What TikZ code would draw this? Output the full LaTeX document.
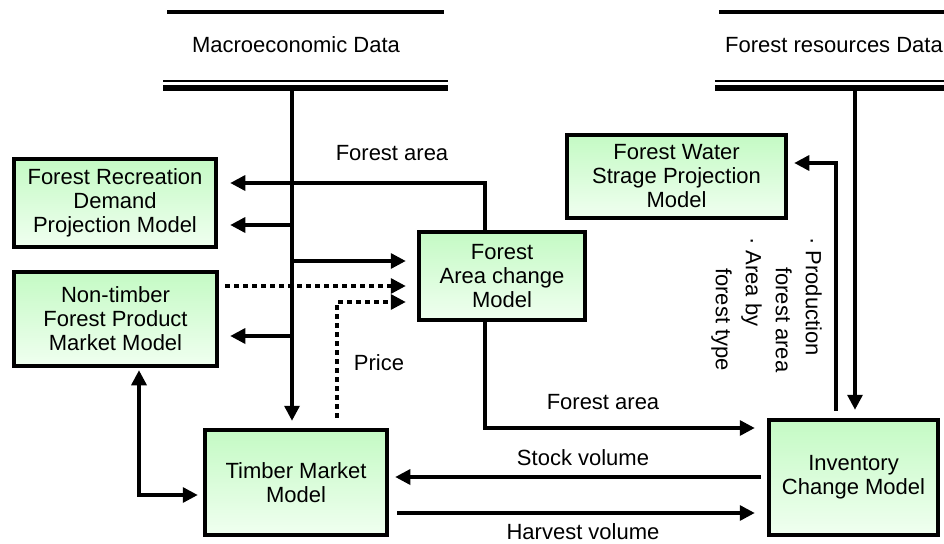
\documentclass[tikz,border=0pt]{standalone}
\usepackage{fontspec}
\setmainfont{Liberation Sans}
\usetikzlibrary{arrows.meta}
\definecolor{gtop}{RGB}{196,250,196}
\definecolor{gbot}{RGB}{240,255,240}
\tikzset{
  model/.style={draw=black, line width=4.5pt, top color=gtop, bottom color=gbot,
    align=center, inner sep=0pt, font=\fontsize{22}{24}\selectfont},
  arr/.style={line width=3.3pt, -{Triangle[length=15pt,width=15pt]}},
  arrs/.style={line width=3.3pt, {Triangle[length=15pt,width=15pt]}-{Triangle[length=15pt,width=15pt]}},
  dotarr/.style={line width=3.3pt, dash pattern=on 5pt off 4pt, -{Triangle[length=15pt,width=15pt]}},
  lbl/.style={font=\fontsize{22}{24}\selectfont, inner sep=0pt},
}
\begin{document}
\begin{tikzpicture}[x=1pt,y=-1pt]
\useasboundingbox (0,0) rectangle (944,543);

% data headers
\node[lbl] (md) at (296,45) {Macroeconomic Data};
\draw[line width=4pt] (167,12) -- (444,12);
\draw[line width=2pt] (163,80.5) -- (448,80.5);
\draw[line width=6pt] (163,87.5) -- (448,87.5);
\coordinate (mdb) at (292,90);

\node[lbl, anchor=west] (fd) at (725,45) {Forest resources Data};
\draw[line width=4pt] (719,12) -- (944,12);
\draw[line width=2pt] (715,80.5) -- (944,80.5);
\draw[line width=6pt] (715,87.5) -- (944,87.5);
\coordinate (fdb) at (855,90);

% models
\node[model, minimum width=202pt, minimum height=88pt] (rec) at (115,203)
  {Forest Recreation\\Demand\\Projection Model};
\node[model, minimum width=203pt, minimum height=94pt] (ntm) at (115.5,319)
  {Non-timber\\Forest Product\\Market Model};
\node[model, minimum width=166pt, minimum height=88pt] (fac) at (502,276)
  {Forest\\Area change\\Model};
\node[model, minimum width=219pt, minimum height=83pt] (fws) at (676.5,176.5)
  {Forest Water\\Strage Projection\\Model};
\node[model, minimum width=182pt, minimum height=105pt] (tmm) at (296,482.5)
  {Timber Market\\Model};
\node[model, minimum width=169pt, minimum height=115pt] (icm) at (853.5,477.5)
  {Inventory\\Change Model};

% main macro line
\draw[arr, shorten >=7pt] (mdb) -- (mdb |- tmm.north);
\coordinate (j1) at (292,225);
\coordinate (j2) at (292,261);
\coordinate (j3) at (292,336);
\draw[arr, shorten >=12pt] (j1) -- (j1 -| rec.east);
\draw[arr, shorten >=11pt] (j2) -- (j2 -| fac.west);
\draw[arr, shorten >=11pt] (j3) -- (j3 -| ntm.east);

% forest area to recreation
\coordinate (c1) at (485,183);
\draw[arr, shorten >=12pt] (fac.north -| c1) -- (c1) -- (c1 -| rec.east);
\node[lbl] (l1) at (392,153) {Forest area};

% dotted from non-timber
\coordinate (c4) at (217,286);
\draw[dotarr, shorten <=6pt, shorten >=11pt] (ntm.east |- c4) -- (c4 -| fac.west);

% price dotted
\coordinate (p1) at (337,302);
\draw[dotarr, shorten <=10pt, shorten >=11pt] (tmm.north -| p1) -- (p1) -- (p1 -| fac.west);
\node[lbl] (l2) at (379,363) {Price};

% non-timber <-> timber
\coordinate (c7) at (139,495);
\draw[arrs, shorten <=2pt, shorten >=5pt] (ntm.south -| c7) -- (c7) -- (c7 -| tmm.west);

% forest area to inventory
\coordinate (c8) at (485,428);
\draw[arr, shorten >=12pt] (fac.south -| c8) -- (c8) -- (c8 -| icm.west);
\node[lbl] (l3) at (603,402) {Forest area};

% stock volume
\coordinate (c9) at (600,477);
\draw[arr, shorten <=6pt, shorten >=6pt] (icm.west |- c9) -- (tmm.east |- c9);
\node[lbl] (l4) at (583,458) {Stock volume};

% harvest volume
\coordinate (c10) at (600,513);
\draw[arr, shorten <=8pt, shorten >=12pt] (tmm.east |- c10) -- (icm.west |- c10);
\node[lbl, anchor=base] (l5) at (583,539.5) {Harvest volume};

% inventory to water
\coordinate (c11) at (836,163);
\draw[arr, shorten <=7pt, shorten >=6pt] (icm.north -| c11) -- (c11) -- (c11 -| fws.east);
\node[font=\fontsize{22}{30}\selectfont, inner sep=0pt, align=left, rotate=-90, anchor=north west] (l6)
  at (822,237) {· Production\\\hspace*{30pt}forest area\\· Area by\\\hspace*{31pt}forest type};

% forest resources to inventory
\draw[arr, shorten >=8pt] (fdb) -- (fdb |- icm.north);
\end{tikzpicture}
\end{document}
